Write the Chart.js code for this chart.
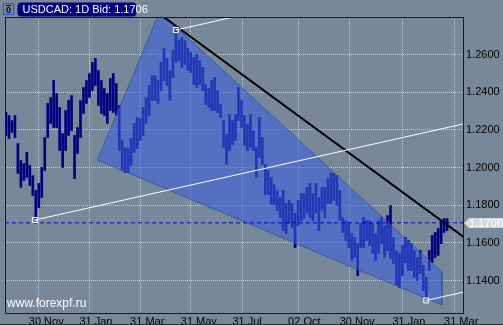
<!DOCTYPE html>
<html><head><meta charset="utf-8">
<script src="https://cdn.jsdelivr.net/npm/chart.js@4.4.1/dist/chart.umd.min.js"></script>
<style>html,body{margin:0;padding:0;background:#778899;overflow:hidden}</style>
</head><body><canvas id="c" width="503" height="325"></canvas>
<script>
// ---- data ----
const symbolTitle = 'USDCAD: 1D Bid: 1.1706';
const bid = 1.1706;
const watermark = 'www.forexpf.ru';
const STEP = 3; // one sampled bar per 3 daily bars
const highs = [1.2292,1.2276,1.2249,1.2276,1.2127,1.2037,1.2021,1.2080,1.2011,1.1957,
1.1878,1.1915,1.2000,1.2159,1.2340,1.2372,1.2462,1.2393,1.2319,1.2180,
1.2303,1.2356,1.2382,1.2170,1.2212,1.2356,1.2425,1.2462,1.2499,1.2558,
1.2579,1.2515,1.2462,1.2419,1.2393,1.2473,1.2499,1.2446,1.2329,1.2143,
1.2106,1.2101,1.2154,1.2234,1.2265,1.2260,1.2319,1.2372,1.2435,1.2488,
1.2488,1.2462,1.2558,1.2632,1.2579,1.2515,1.2621,1.2727,1.2674,1.2690,
1.2674,1.2632,1.2611,1.2584,1.2600,1.2568,1.2531,1.2441,1.2419,1.2462,
1.2478,1.2409,1.2334,1.2249,1.2175,1.2281,1.2249,1.2281,1.2425,1.2356,
1.2276,1.2228,1.2281,1.2196,1.2106,1.2265,1.2159,1.2016,1.1984,1.1947,
1.1910,1.1878,1.1841,1.1878,1.1809,1.1825,1.1809,1.1756,1.1825,1.1862,
1.1862,1.1894,1.1915,1.1862,1.1915,1.1841,1.1894,1.1894,1.1941,1.1973,
1.1968,1.1957,1.1878,1.1734,1.1718,1.1708,1.1649,1.1628,1.1596,1.1703,
1.1734,1.1718,1.1718,1.1703,1.1649,1.1718,1.1734,1.1692,1.1745,1.1798,
1.1628,1.1559,1.1543,1.1586,1.1628,1.1612,1.1596,1.1559,1.1522,1.1559,
1.1480,1.1416,1.1559,1.1639,1.1655,1.1676,1.1718,1.1729,1.1729];
const lows = [1.2170,1.2154,1.2186,1.2159,1.1968,1.1894,1.1931,1.1947,1.1904,1.1851,
1.1729,1.1787,1.1841,1.1984,1.2159,1.2234,1.2212,1.2212,1.2090,1.2000,
1.2090,1.2170,1.2196,1.1941,1.2074,1.2159,1.2287,1.2340,1.2372,1.2409,
1.2435,1.2329,1.2287,1.2276,1.2234,1.2303,1.2292,1.2276,1.2090,1.1984,
1.1973,1.1973,1.2011,1.2080,1.2101,1.2143,1.2170,1.2234,1.2276,1.2356,
1.2356,1.2340,1.2409,1.2462,1.2435,1.2356,1.2478,1.2558,1.2568,1.2531,
1.2547,1.2515,1.2504,1.2441,1.2425,1.2441,1.2409,1.2334,1.2319,1.2303,
1.2303,1.2292,1.2265,1.2106,1.2016,1.2090,1.2122,1.2143,1.2249,1.2212,
1.2117,1.2090,1.2106,1.2090,1.1947,1.2053,1.2016,1.1857,1.1857,1.1803,
1.1803,1.1772,1.1734,1.1665,1.1649,1.1703,1.1681,1.1575,1.1692,1.1718,
1.1729,1.1756,1.1734,1.1718,1.1756,1.1665,1.1772,1.1734,1.1809,1.1809,
1.1825,1.1798,1.1718,1.1655,1.1612,1.1575,1.1506,1.1522,1.1426,1.1575,
1.1575,1.1612,1.1586,1.1543,1.1506,1.1543,1.1596,1.1522,1.1559,1.1517,
1.1490,1.1373,1.1363,1.1426,1.1495,1.1453,1.1453,1.1416,1.1400,1.1437,
1.1347,1.1304,1.1453,1.1495,1.1522,1.1533,1.1596,1.1655,1.1665];
const xTickDays = [33, 84, 135, 186, 238, 294, 346, 399, 451];
const xTickLabels = ['30 Nov','31 Jan','31 Mar','31 May','31 Jul','02 Oct','30 Nov','31 Jan','31 Mar'];
const yTicks = [1.14, 1.16, 1.18, 1.20, 1.22, 1.24, 1.26];
// triangle object vertices (left, apex, right-top, right-bottom)
const triangleDays = [92, 154.7, 438.7, 438.7];
const trianglePrices = [1.2040, 1.2826, 1.1445, 1.1270];
// black trend line
const trendDays = [158.7, 460.5];
const trendPrices = [1.2799, 1.1631];
// white parallel channel lines: anchor and end
const channelStartDays = [171, 29, 423];
const channelStartPrices = [1.2730, 1.1721, 1.1294];
const channelEndDay = 461;
const channelEndPrices = [1.3073, 1.2232, 1.1339];
const X_MIN = -1, X_MAX = 461, Y_MIN = 1.1222, Y_MAX = 1.2799;

const FONT = "'Liberation Sans Narrow','Arial Narrow','Liberation Sans',sans-serif";
const days = highs.map((_, i) => i * STEP);
const barData = days.map((d, i) => ({x: d, y: [lows[i], highs[i]]}));
const pts = (xs, ys) => xs.map((x, i) => ({x, y: ys[i]}));

const datasets = [];
datasets.push({type:'line', label:'anchors', data: pts(channelStartDays, channelStartPrices), showLine:false,
  pointStyle:'rect', pointRadius:3.5, pointBorderColor:'#ffffff', pointBackgroundColor:'rgba(0,0,0,0)', pointBorderWidth:1, order:0, clip:0});
channelStartDays.forEach((d, i) => {
  datasets.push({type:'line', label:'ch'+i, data:[{x:d, y:channelStartPrices[i]}, {x:channelEndDay, y:channelEndPrices[i]}],
    borderColor:'#ffffff', borderWidth:1, pointRadius:0, order:1, clip:0});
});
datasets.push({type:'line', label:'trend', data: pts(trendDays, trendPrices), borderColor:'#000000', borderWidth:2, pointRadius:0, order:1, clip:0});
datasets.push({type:'line', label:'bid', data:[{x:X_MIN, y:bid}, {x:X_MAX, y:bid}], borderColor:'#0000d0', borderWidth:1, borderDash:[4,3], pointRadius:0, order:2, clip:0});
datasets.push({type:'line', label:'triangle-edge', data: pts(triangleDays.concat([triangleDays[0]]), trianglePrices.concat([trianglePrices[0]])),
  borderColor:'rgba(50,90,150,0.9)', borderWidth:1, pointRadius:0, fill:false, order:4, clip:0});
datasets.push({type:'line', label:'triangle', data: pts(triangleDays, trianglePrices), fill:'shape',
  backgroundColor:'rgba(60,95,220,0.58)', borderWidth:0, borderColor:'rgba(0,0,0,0)', pointRadius:0, order:5, clip:0});
datasets.push({type:'bar', label:'USDCAD', data: barData, backgroundColor:'#000080', barThickness:2, borderWidth:0, order:10});

const bgPlugin = {id:'bg', beforeDraw(chart){ const c = chart.ctx; c.save(); c.fillStyle = '#778899'; c.fillRect(0,0,chart.width,chart.height); c.restore(); }};
const decor = {id:'decor', afterDraw(chart){
  const c = chart.ctx, a = chart.chartArea, y = chart.scales.y;
  c.save();
  c.strokeStyle = '#0000ee'; c.lineWidth = 1;
  c.strokeRect(a.left + 0.5, a.top + 0.5, a.right - a.left - 1, a.bottom - a.top - 1);
  // title box
  c.fillStyle = '#000080';
  c.beginPath(); c.roundRect(17.5, 2.5, 119, 14, 4); c.fill();
  c.fillStyle = '#ffffff'; c.font = '11px ' + FONT; c.textBaseline = 'alphabetic'; c.textAlign = 'left';
  c.fillText(symbolTitle, 22.5, 12.5);
  // icon
  c.strokeStyle = '#2a4bff'; c.strokeRect(3.5, 3.5, 10, 11);
  c.fillStyle = '#000000'; c.font = 'bold 9px ' + FONT; c.fillText('0', 6, 13);
  c.fillRect(6, 5, 5, 1);
  // bid tag
  const yb = Math.round(y.getPixelForValue(bid));
  c.fillStyle = '#d4d8dc';
  c.beginPath(); c.moveTo(464, yb); c.lineTo(469, yb - 5); c.lineTo(503, yb - 5); c.lineTo(503, yb + 5); c.lineTo(469, yb + 5); c.closePath(); c.fill();
  c.fillStyle = '#ffffff'; c.font = '11px ' + FONT; c.textBaseline = 'middle';
  c.fillText(bid.toFixed(4), 469, yb + 0.5);
  // watermark
  c.textBaseline = 'alphabetic'; c.font = '12px ' + FONT;
  c.fillText(watermark, 7, 306.5);
  // outer bottom line
  c.fillStyle = '#2a2f36'; c.fillRect(0, 324, 503, 1);
  c.restore();
}};

new Chart(document.getElementById('c'), {
  type: 'bar',
  data: {datasets},
  options: {
    responsive:false, animation:false, devicePixelRatio:1,
    layout:{padding:{top:17, left:2, right:0, bottom:0}},
    plugins:{legend:{display:false}, tooltip:{enabled:false}},
    scales:{
      x:{type:'linear', min:X_MIN, max:X_MAX, position:'bottom', offset:false,
        afterBuildTicks: s => { s.ticks = xTickDays.map(v => ({value:v})); },
        afterFit: s => { s.height = 11; },
        grid:{color:'#c6cdd4', lineWidth:1, drawTicks:false, tickLength:0, offset:false},
        border:{display:false, dash:[1,1]},
        ticks:{autoSkip:false, maxRotation:0, padding:1, align:'start', labelOffset:-10, color:'#000000',
          font:{family:FONT, size:11}, callback:(v, i) => xTickLabels[i]}
      },
      y:{type:'linear', position:'right', min:Y_MIN, max:Y_MAX,
        afterBuildTicks: s => { s.ticks = yTicks.map(v => ({value:v})); },
        afterFit: s => { s.width = 39; },
        grid:{color:'#c6cdd4', lineWidth:1, drawTicks:false, tickLength:0},
        border:{display:false, dash:[1,1]},
        ticks:{padding:2, color:'#000000', font:{family:FONT, size:11}, callback: v => Number(v).toFixed(4)}
      }
    }
  },
  plugins:[bgPlugin, decor]
});
</script></body></html>
